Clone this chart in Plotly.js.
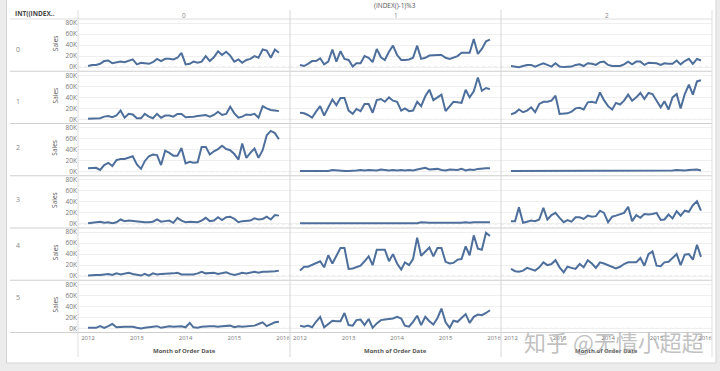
<!DOCTYPE html>
<html>
<head>
<meta charset="utf-8">
<script src="https://cdn.plot.ly/plotly-3.0.1.min.js"></script>
<style>html,body{margin:0;padding:0;background:#fff;}#chart{width:720px;height:371px;}</style>
</head>
<body>
<div id="chart"></div>
<script>
// ---- DATA (monthly Sales, in thousands, Jan 2012 .. Dec 2015) ----
const rowLabels = ["0","1","2","3","4","5"];
const colLabels = ["0","1","2"];
const yearTicks = ["2012","2013","2014","2015","2016"];
const yTickLabels = ["0K","20K","40K","60K","80K"];

const sales_r0_c0 = [2,4,4,6,11,12,7,8,10,9,11,14, 5,8,7,6,9,15,11,15,15,14,17,26, 5,6,10,8,10,20,11,18,29,22,28,21, 10,14,8,13,15,20,17,32,30,17,32,26];
const sales_r0_c1 = [4,2,6,11,11,16,5,10,32,10,29,15, 13,1,7,7,20,17,9,33,18,13,28,39, 22,13,13,14,17,39,15,17,21,22,22,22, 17,15,17,20,26,26,26,51,24,33,47,50];
const sales_r0_c2 = [2,1,0,2,4,4,1,4,7,4,1,7, 1,0,1,1,4,5,2,7,6,4,9,10, 4,2,2,2,5,10,5,10,10,4,8,8, 7,4,7,6,6,12,5,11,15,6,15,12];
const sales_r1_c0 = [1,1,2,2,5,6,4,7,16,3,10,9, 2,2,10,5,2,10,3,7,7,5,10,10, 4,4,5,6,7,8,5,8,14,8,10,23, 11,3,5,9,8,10,3,24,20,17,16,15];
const sales_r1_c1 = [12,11,8,3,14,24,7,22,36,26,39,39, 16,10,19,15,28,28,12,35,37,32,40,34, 32,16,20,15,16,32,24,42,54,35,40,45, 15,25,32,31,30,54,40,51,76,52,57,55];
const sales_r1_c2 = [9,12,18,13,16,22,13,28,32,32,34,43, 10,11,11,14,20,21,18,31,32,30,49,35, 24,18,30,27,34,45,34,40,48,37,48,46, 34,22,33,18,40,46,20,46,63,45,69,71];
const sales_r2_c0 = [6,7,7,3,12,16,10,21,23,23,26,28, 13,5,19,28,31,30,12,38,34,29,29,43, 15,18,16,17,45,45,31,37,41,47,41,39, 32,22,51,25,34,42,25,39,66,74,70,59];
const sales_r2_c1 = [1,1,2,1,2,2,2,1,3,2,2,1, 1,1,2,3,2,3,3,2,4,3,2,3, 2,3,2,3,2,4,6,7,4,5,5,3, 2,4,3,3,5,2,4,3,5,6,6,6];
const sales_r2_c2 = [1,1,1,1,2,1,1,2,1,2,1,1, 1,1,1,2,1,2,1,2,2,1,2,1, 1,1,1,2,1,2,2,1,2,2,2,1, 1,2,1,2,2,3,2,2,3,3,4,2];
const sales_r3_c0 = [1,2,2,4,2,3,1,3,8,5,6,5, 4,3,3,3,4,8,4,5,6,2,11,6, 3,4,3,3,6,11,5,6,12,7,12,13, 9,3,5,6,6,10,8,9,13,8,16,15];
const sales_r3_c1 = [1,1,1,1,2,1,2,1,2,2,1,2, 1,1,1,2,1,2,1,1,2,1,2,1, 1,1,1,1,2,1,3,2,2,2,2,1, 1,2,2,2,2,3,2,3,3,3,3,3];
const sales_r3_c2 = [5,5,30,2,4,6,5,8,29,8,16,20, 11,3,7,4,12,12,9,15,13,14,24,20, 3,13,15,17,20,31,5,16,11,18,17,18, 20,7,8,17,10,23,15,24,22,34,41,24];
const sales_r4_c0 = [1,2,2,2,3,4,2,5,3,4,6,4, 2,1,4,1,5,3,4,4,5,5,6,3, 3,3,3,5,8,5,6,6,4,5,7,4, 2,4,6,5,6,8,6,8,8,8,9,10];
const sales_r4_c1 = [10,17,17,20,24,27,16,38,23,38,51,51, 13,14,16,19,27,36,20,48,48,48,27,40, 23,12,25,20,31,70,37,45,52,36,51,51, 26,23,24,30,31,54,38,74,50,48,79,73];
const sales_r4_c2 = [13,9,8,10,15,13,10,16,25,20,22,29, 16,7,17,15,13,22,16,29,23,15,25,23, 20,17,14,17,22,25,25,25,33,19,40,45, 19,18,25,26,33,40,20,39,40,30,57,35];
const sales_r5_c0 = [1,1,1,4,1,4,8,2,3,3,3,3, 1,0,1,2,3,4,1,3,4,3,4,4, 2,10,2,1,3,4,4,4,3,4,4,5, 2,4,3,4,4,5,8,11,4,7,11,12];
const sales_r5_c1 = [5,3,5,2,12,21,2,8,14,13,13,28, 6,5,15,16,6,17,1,9,15,16,17,18, 21,18,5,3,12,23,6,21,13,7,19,36, 11,1,14,12,19,26,10,21,25,24,28,33];

const grid = [
  [sales_r0_c0, sales_r0_c1, sales_r0_c2],
  [sales_r1_c0, sales_r1_c1, sales_r1_c2],
  [sales_r2_c0, sales_r2_c1, sales_r2_c2],
  [sales_r3_c0, sales_r3_c1, sales_r3_c2],
  [sales_r4_c0, sales_r4_c1, sales_r4_c2],
  [sales_r5_c0, sales_r5_c1, null]
];

// month dates
const months = [];
for (let y = 2012; y <= 2015; y++) for (let m = 1; m <= 12; m++) months.push(y + "-" + String(m).padStart(2, "0") + "-01");
const yearDates = yearTicks.map(y => y + "-01-01");

// ---- LAYOUT GEOMETRY (pixels) ----
const W = 720, H = 371;
const colX = [[78, 290], [290, 501], [501, 712]];
const rowTop = 19, rowH = 52.25;
const px = v => v / W;
const py = v => 1 - v / H;

const lineColor = "#4e6f9b";
const FONT = "Open Sans, Lato, Arial, sans-serif";

const traces = [];
const layout = {
  width: W, height: H,
  margin: {l: 0, r: 0, t: 0, b: 0},
  paper_bgcolor: "#ffffff", plot_bgcolor: "rgba(0,0,0,0)",
  showlegend: false,
  font: {family: FONT, size: 7, color: "#666"},
  annotations: [], shapes: []
};

let k = 0;
for (let r = 0; r < 6; r++) {
  for (let c = 0; c < 3; c++) {
    k++;
    const xa = "xaxis" + (k === 1 ? "" : k), ya = "yaxis" + (k === 1 ? "" : k);
    const xr = "x" + (k === 1 ? "" : k), yr = "y" + (k === 1 ? "" : k);
    const top = rowTop + r * rowH, bot = top + rowH;
    layout[xa] = {
      domain: [px(colX[c][0]), px(colX[c][1])],
      anchor: yr, type: "date",
      range: ["2011-10-18", "2016-02-22"],
      showgrid: false, zeroline: false, showline: false,
      tickvals: yearDates, ticktext: yearTicks,
      showticklabels: r === 5, ticks: "",
      tickfont: {size: 6, color: "#777", family: FONT}
    };
    layout[ya] = {
      domain: [py(bot), py(top)],
      anchor: xr,
      range: [-7.5, 87.5],
      showgrid: true, gridcolor: "#efefef", gridwidth: 1,
      zeroline: false, showline: false,
      tickvals: [0, 20, 40, 60, 80], ticktext: yTickLabels,
      showticklabels: c === 0, ticks: "",
      tickfont: {size: 6.5, color: "#777", family: FONT}
    };
    // dotted zero line
    layout.shapes.push({type: "line", xref: xr + " domain", yref: yr, x0: 0, x1: 1, y0: 0, y1: 0,
      line: {color: "#d6d6d6", width: 1, dash: "dot"}, layer: "below"});
    const vals = grid[r][c];
    if (vals) {
      traces.push({
        type: "scatter", mode: "lines", x: months, y: vals,
        xaxis: xr, yaxis: yr,
        line: {color: lineColor, width: 2}, hoverinfo: "skip"
      });
    }
  }
  // row header + Sales title
  const cy = rowTop + r * rowH + rowH / 2;
  layout.annotations.push({xref: "paper", yref: "paper", x: px(14), y: py(cy - 2), text: rowLabels[r],
    showarrow: false, xanchor: "left", font: {size: 7, color: "#888", family: FONT}});
  layout.annotations.push({xref: "paper", yref: "paper", x: px(55), y: py(cy - 2), text: "Sales", textangle: -90,
    showarrow: false, xanchor: "center", yanchor: "middle", font: {size: 6.5, color: "#555", family: FONT}});
}

// column headers and bottom titles
const colCenters = colX.map(v => (v[0] + v[1]) / 2);
colLabels.forEach((t, i) => {
  layout.annotations.push({xref: "paper", yref: "paper", x: px(colCenters[i]), y: py(15), text: t,
    showarrow: false, xanchor: "center", yanchor: "middle", font: {size: 6.5, color: "#888", family: FONT}});
  layout.annotations.push({xref: "paper", yref: "paper", x: px(colCenters[i]), y: py(351), text: "<b>Month of Order Date</b>",
    showarrow: false, xanchor: "center", yanchor: "middle", font: {size: 6, color: "#555", family: FONT}});
});
layout.annotations.push({xref: "paper", yref: "paper", x: px(395), y: py(5), text: "(INDEX()-1)%3",
  showarrow: false, xanchor: "center", yanchor: "middle", font: {size: 6.5, color: "#555", family: FONT}});
layout.annotations.push({xref: "paper", yref: "paper", x: px(13), y: py(14), text: "<b>INT((INDEX..</b>", xanchor: "left",
  yanchor: "middle", showarrow: false, font: {size: 6.5, color: "#444", family: FONT}});
// watermark
layout.annotations.push({xref: "paper", yref: "paper", x: px(614), y: py(341), text: "知乎 @无情小超超",
  showarrow: false, xanchor: "center", yanchor: "middle",
  font: {size: 22, color: "rgba(165,165,165,0.7)", family: "Noto Sans CJK SC"}});

// frame / dividers
const S = layout.shapes;
const pl = (x0, y0, x1, y1, color, w) => S.push({type: "line", xref: "paper", yref: "paper",
  x0: px(x0), y0: py(y0), x1: px(x1), y1: py(y1), line: {color: color, width: w || 1}, layer: "above"});
// outer backgrounds
S.push({type: "rect", xref: "paper", yref: "paper", x0: 0, x1: px(6), y0: 0, y1: 1, fillcolor: "#ececec", line: {width: 0}, layer: "below"});
S.push({type: "rect", xref: "paper", yref: "paper", x0: 0, x1: 1, y0: 0, y1: py(363), fillcolor: "#ececec", line: {width: 0}, layer: "below"});
S.push({type: "rect", xref: "paper", yref: "paper", x0: px(716), x1: 1, y0: 0, y1: 1, fillcolor: "#ececec", line: {width: 0}, layer: "below"});
pl(6.5, 0, 6.5, 363, "#d4d4d4");
pl(6.5, 363, 716, 363, "#d4d4d4");
pl(716, 0, 716, 363, "#d4d4d4");
// header line and row dividers
for (let r = 0; r <= 6; r++) {
  const y = rowTop + r * rowH;
  pl(10, y, 712, y, r === 0 ? "#dedede" : "#cfcfcf");
}
// vertical dividers
pl(78, 10, 78, 357, "#dedede");
pl(290, 10, 290, 357, "#d6d6d6");
pl(501, 10, 501, 357, "#d6d6d6");
pl(712, 10, 712, 357, "#dedede");

Plotly.newPlot("chart", traces, layout, {staticPlot: true, displayModeBar: false});
</script>
</body>
</html>
